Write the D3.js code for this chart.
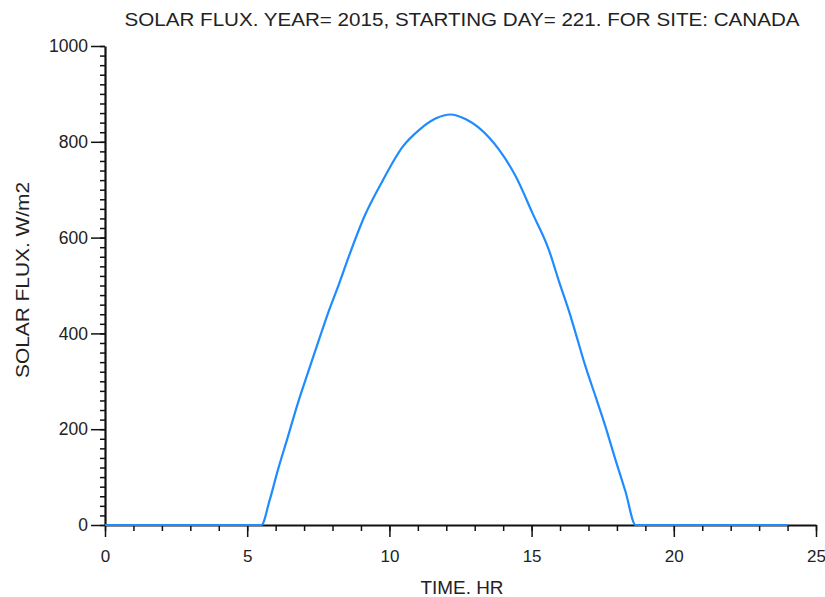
<!DOCTYPE html>
<html><head><meta charset="utf-8">
<script src="https://cdn.jsdelivr.net/npm/d3@7"></script>
<style>body{margin:0;background:#fff}svg{display:block}text{font-family:"Liberation Sans",Arial,sans-serif}</style>
</head><body>
<svg id="c" width="825" height="597"></svg>
<script>
const timeHr = [0, 1, 2, 3, 4, 5, 5.5, 5.79, 6.08, 6.43, 6.78, 7.13, 7.48, 7.84, 8.19, 8.6, 9.12, 9.71, 10.47, 11.05, 11.64, 12.15, 12.69, 13.13, 13.86, 14.45, 15.03, 15.61, 15.96, 16.37, 16.55, 16.9, 17.25, 17.6, 17.95, 18.3, 18.66, 19, 20, 21, 22, 23, 24];
const fluxW = [0, 0, 0, 0, 0, 0, 0, 52, 115, 184, 254, 317, 379, 442, 497, 565, 644, 713, 790, 825, 849, 857, 847, 830, 783, 727, 651, 574, 509, 436, 400, 330, 268, 205, 136, 70, 0, 0, 0, 0, 0, 0, 0];
const xMajorTicks = [0, 5, 10, 15, 20, 25];
const yMajorTicks = [0, 200, 400, 600, 800, 1000];
const titleText = "SOLAR FLUX. YEAR= 2015, STARTING DAY= 221. FOR SITE: CANADA";
const xLabel = "TIME. HR";
const yLabel = "SOLAR FLUX. W/m2";

const svg = d3.select("#c");
const x = d3.scaleLinear().domain([0, 25]).range([105, 816]);
const y = d3.scaleLinear().domain([0, 1000]).range([525, 46]);

// minor ticks
svg.append("g").attr("transform", "translate(0,525)")
  .call(d3.axisBottom(x).tickValues(d3.range(0, 26, 1)).tickSize(6).tickFormat(""))
  .call(g => g.select(".domain").remove())
  .call(g => g.selectAll("line").attr("stroke", "#111").attr("stroke-width", 1.5));
svg.append("g").attr("transform", "translate(105,0)")
  .call(d3.axisLeft(y).tickValues(d3.range(0, 1001, 20)).tickSize(5).tickFormat(""))
  .call(g => g.select(".domain").remove())
  .call(g => g.selectAll("line").attr("stroke", "#111").attr("stroke-width", 1.5));

// major
const xa = svg.append("g").attr("transform", "translate(0,525)")
  .call(d3.axisBottom(x).tickValues(xMajorTicks).tickSize(12).tickSizeOuter(0).tickPadding(13).tickFormat(d3.format("d")));
xa.select(".domain").attr("stroke", "#111").attr("stroke-width", 2.2);
xa.selectAll("line").attr("stroke", "#111").attr("stroke-width", 1.5);
xa.selectAll("text").attr("font-size", 17).attr("fill", "#222");

const ya = svg.append("g").attr("transform", "translate(105,0)")
  .call(d3.axisLeft(y).tickValues(yMajorTicks).tickSize(14).tickSizeOuter(0).tickPadding(3).tickFormat(d3.format("d")));
ya.select(".domain").attr("stroke", "#111").attr("stroke-width", 2.2);
ya.selectAll("line").attr("stroke", "#111").attr("stroke-width", 1.5);
ya.selectAll("text").attr("font-size", 17.5).attr("fill", "#222");

// line
const line = d3.line().x((d, i) => x(timeHr[i])).y(d => y(d)).curve(d3.curveMonotoneX);
svg.append("path").datum(fluxW).attr("d", line)
  .attr("fill", "none").attr("stroke", "#1E8CFF").attr("stroke-width", 2.2);

svg.append("text").attr("x", 462).attr("y", 26).attr("text-anchor", "middle")
  .attr("font-size", 19).attr("fill", "#222")
  .attr("textLength", 675).attr("lengthAdjust", "spacingAndGlyphs").text(titleText);
svg.append("text").attr("x", 462).attr("y", 594).attr("text-anchor", "middle")
  .attr("font-size", 19).attr("fill", "#222")
  .attr("textLength", 83).attr("lengthAdjust", "spacingAndGlyphs").text(xLabel);
svg.append("text").attr("transform", "translate(29,280) rotate(-90)").attr("text-anchor", "middle")
  .attr("font-size", 19).attr("fill", "#222")
  .attr("textLength", 196).attr("lengthAdjust", "spacingAndGlyphs").text(yLabel);
</script>
</body></html>
